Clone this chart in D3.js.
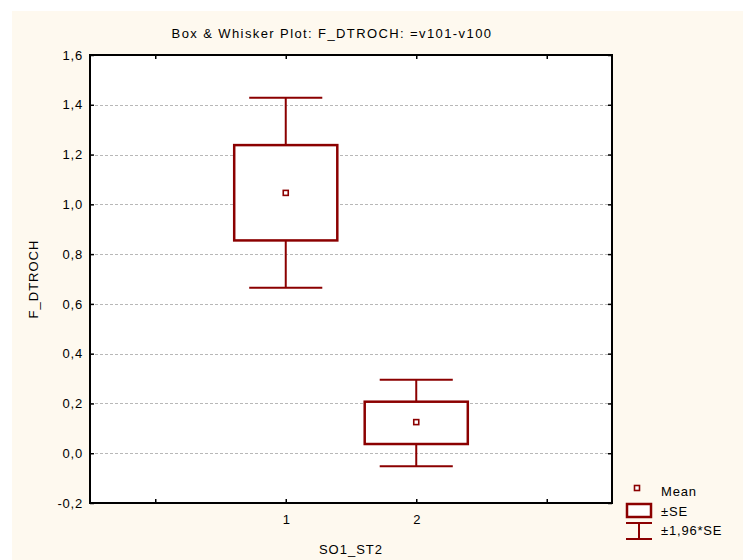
<!DOCTYPE html>
<html>
<head>
<meta charset="utf-8">
<script src="https://cdn.jsdelivr.net/npm/d3@7"></script>
<style>
  body { margin: 0; background: #ffffff; }
  svg { display: block; font-family: "Liberation Sans", Arial, sans-serif; }
</style>
</head>
<body>
<div id="chart"></div>
<script>
// Box & whisker: mean, ±SE box, ±1.96*SE whiskers
const groups = ['1', '2'];
const groupPos = [2, 3];
const means = [1.046, 0.125];
const seLow = [0.855, 0.037];
const seHigh = [1.238, 0.207];
const ciLow = [0.665, -0.052];
const ciHigh = [1.428, 0.295];

const yTicks = [-0.2, 0, 0.2, 0.4, 0.6, 0.8, 1.0, 1.2, 1.4, 1.6];
const xTicks = [1, 2, 3, 4];
const xTickLabels = ['', '1', '2', ''];

const title = 'Box & Whisker Plot: F_DTROCH: =v101-v100';
const yTitle = 'F_DTROCH';
const xTitle = 'SO1_ST2';

const width = 743;
const height = 560;
const margin = { top: 55, right: 131, bottom: 57, left: 90 };
const innerW = width - margin.left - margin.right;
const innerH = height - margin.top - margin.bottom;
const red = '#8b0000';

const fmt = d3.formatLocale({ decimal: ',', thousands: '.', grouping: [3], currency: ['', ''], minus: '-' }).format('.1f');

const svg = d3.select('#chart').append('svg')
    .attr('width', width)
    .attr('height', height);

// cream panel
svg.append('rect')
    .attr('x', 12).attr('y', 11)
    .attr('width', width - 12).attr('height', height - 11)
    .attr('fill', '#fef9ef');

const g = svg.append('g').attr('transform', `translate(${margin.left},${margin.top})`);

const x = d3.scaleLinear().domain([0.5, 4.5]).range([0, innerW]);
const y = d3.scaleLinear().domain([-0.2, 1.6]).range([innerH, 0]);

g.append('rect')
    .attr('width', innerW).attr('height', innerH)
    .attr('fill', '#ffffff');

// grid
g.selectAll('line.grid')
    .data(yTicks.slice(1, -1))
    .enter().append('line')
    .attr('class', 'grid')
    .attr('x1', 0).attr('x2', innerW)
    .attr('y1', d => Math.round(y(d)) + 0.5).attr('y2', d => Math.round(y(d)) + 0.5)
    .attr('stroke', '#b8b8b8')
    .attr('stroke-width', 1)
    .attr('stroke-dasharray', '3,2');

// axes with inward ticks
const left = g.append('g')
    .call(d3.axisLeft(y).tickValues(yTicks).tickSize(-4).tickPadding(7).tickFormat(fmt));
left.selectAll('text').attr('fill', '#000').style('font-size', '13px').style('letter-spacing', '0.8px');

g.append('g').attr('transform', `translate(${innerW},0)`)
    .call(d3.axisRight(y).tickValues(yTicks).tickSize(-4).tickFormat(''));

const bottom = g.append('g').attr('transform', `translate(0,${innerH})`)
    .call(d3.axisBottom(x).tickValues(xTicks).tickSize(-4).tickPadding(12).tickFormat((d, i) => xTickLabels[i]));
bottom.selectAll('text').attr('fill', '#000').style('font-size', '13px');

g.append('g')
    .call(d3.axisTop(x).tickValues(xTicks).tickSize(-4).tickFormat(''));

g.selectAll('.domain').remove();
g.selectAll('.tick line').attr('stroke', '#000').attr('stroke-width', 1.5);

// frame
g.append('rect')
    .attr('width', innerW).attr('height', innerH)
    .attr('fill', 'none')
    .attr('stroke', '#000')
    .attr('stroke-width', 2);

// boxes
const boxW = 0.79;
const capW = 0.56;
const data = groups.map((k, i) => ({
    pos: groupPos[i], mean: means[i], lo: seLow[i], hi: seHigh[i], wlo: ciLow[i], whi: ciHigh[i]
}));

const box = g.selectAll('g.box').data(data).enter().append('g').attr('class', 'box');

box.append('line')
    .attr('x1', d => x(d.pos)).attr('x2', d => x(d.pos))
    .attr('y1', d => y(d.whi)).attr('y2', d => y(d.hi))
    .attr('stroke', red).attr('stroke-width', 2);
box.append('line')
    .attr('x1', d => x(d.pos)).attr('x2', d => x(d.pos))
    .attr('y1', d => y(d.lo)).attr('y2', d => y(d.wlo))
    .attr('stroke', red).attr('stroke-width', 2);
box.append('line')
    .attr('x1', d => x(d.pos - capW / 2)).attr('x2', d => x(d.pos + capW / 2))
    .attr('y1', d => y(d.whi)).attr('y2', d => y(d.whi))
    .attr('stroke', red).attr('stroke-width', 2);
box.append('line')
    .attr('x1', d => x(d.pos - capW / 2)).attr('x2', d => x(d.pos + capW / 2))
    .attr('y1', d => y(d.wlo)).attr('y2', d => y(d.wlo))
    .attr('stroke', red).attr('stroke-width', 2);
box.append('rect')
    .attr('x', d => x(d.pos - boxW / 2))
    .attr('y', d => y(d.hi))
    .attr('width', x(boxW) - x(0))
    .attr('height', d => y(d.lo) - y(d.hi))
    .attr('fill', '#ffffff')
    .attr('stroke', red).attr('stroke-width', 2.5);
box.append('rect')
    .attr('x', d => x(d.pos) - 2.5)
    .attr('y', d => y(d.mean) - 2.5)
    .attr('width', 5).attr('height', 5)
    .attr('fill', '#ffffff')
    .attr('stroke', red).attr('stroke-width', 1.6);

// titles
svg.append('text')
    .attr('x', 332).attr('y', 38)
    .attr('text-anchor', 'middle')
    .style('font-size', '13px')
    .style('letter-spacing', '1.4px')
    .text(title);

svg.append('text')
    .attr('transform', `translate(38,279) rotate(-90)`)
    .attr('text-anchor', 'middle')
    .style('font-size', '13px')
    .style('letter-spacing', '1px')
    .text(yTitle);

svg.append('text')
    .attr('x', margin.left + innerW / 2).attr('y', 554)
    .attr('text-anchor', 'middle')
    .style('font-size', '13px')
    .style('letter-spacing', '1px')
    .text(xTitle);

// legend
const lg = svg.append('g').attr('transform', 'translate(626,488)');
lg.append('rect').attr('x', 8.5).attr('y', -2.5).attr('width', 5).attr('height', 5)
    .attr('fill', '#fff').attr('stroke', red).attr('stroke-width', 1.6);
lg.append('rect').attr('x', 1).attr('y', 16).attr('width', 24).attr('height', 13)
    .attr('fill', '#fff').attr('stroke', red).attr('stroke-width', 2.5);
lg.append('line').attr('x1', 0).attr('x2', 26).attr('y1', 35).attr('y2', 35).attr('stroke', red).attr('stroke-width', 2);
lg.append('line').attr('x1', 0).attr('x2', 26).attr('y1', 51).attr('y2', 51).attr('stroke', red).attr('stroke-width', 2);
lg.append('line').attr('x1', 13).attr('x2', 13).attr('y1', 35).attr('y2', 51).attr('stroke', red).attr('stroke-width', 2);
const lt = [['Mean', 8], ['±SE', 28], ['±1,96*SE', 47]];
lg.selectAll('text.lt').data(lt).enter().append('text')
    .attr('x', 35).attr('y', d => d[1])
    .style('font-size', '13px')
    .style('letter-spacing', '0.8px')
    .text(d => d[0]);
</script>
</body>
</html>
